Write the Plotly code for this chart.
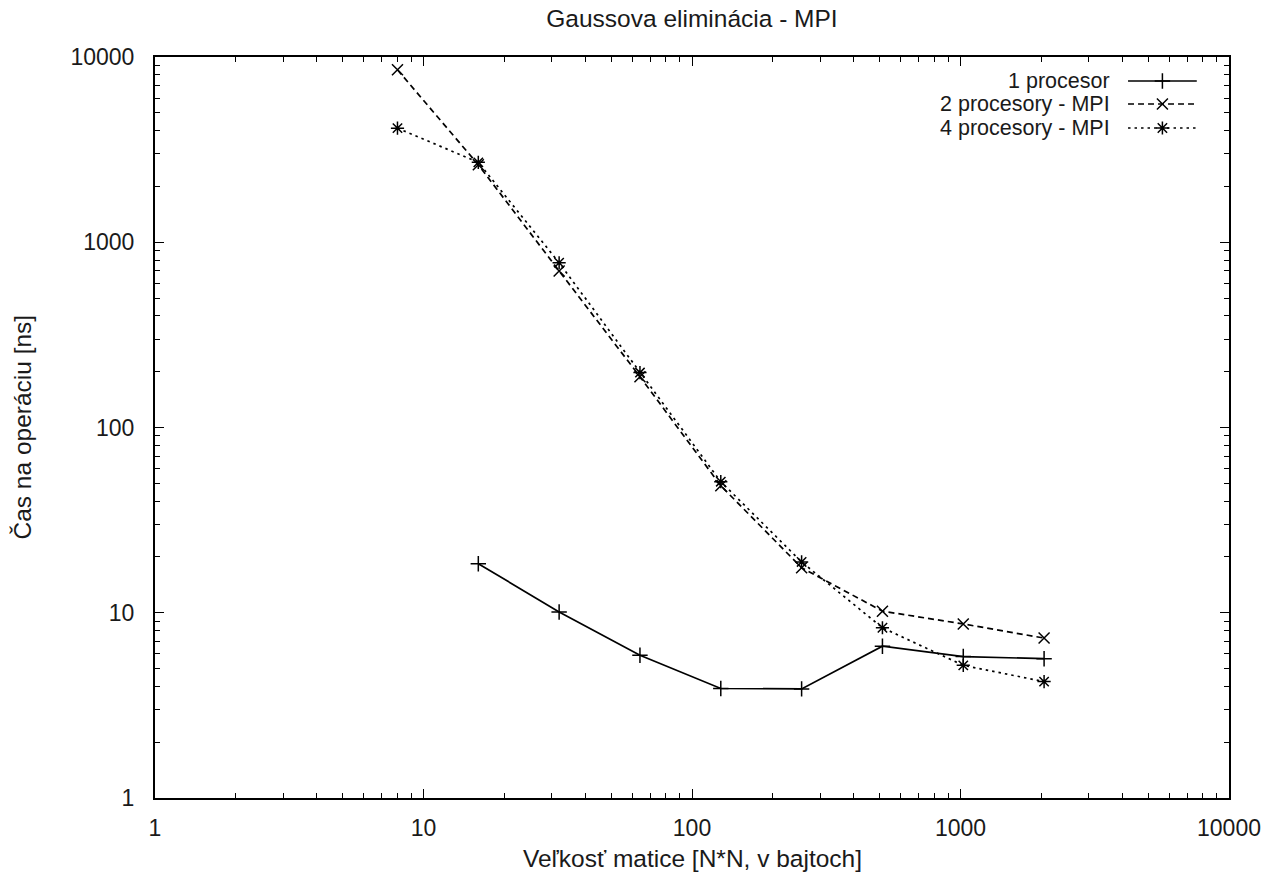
import plotly.graph_objects as go

# Matrix sizes (N*N, bytes) and time per operation [ns]
sizes = [8, 16, 32, 64, 128, 256, 512, 1024, 2048]
one_proc_sizes = [16, 32, 64, 128, 256, 512, 1024, 2048]
one_proc = [18.4, 10.1, 5.9, 3.9, 3.88, 6.6, 5.8, 5.65]
two_mpi = [8530, 2620, 700, 188, 48.5, 17.5, 10.2, 8.7, 7.3]
four_mpi = [4130, 2700, 775, 198, 51, 18.8, 8.3, 5.2, 4.25]

series_names = ["1 procesor", "2 procesory - MPI", "4 procesory - MPI"]
tick_vals = [1, 10, 100, 1000, 10000]
tick_text = ["1", "10", "100", "1000", "10000"]

FONT = "Liberation Sans, Arial, sans-serif"
INK = "#1a1a1a"
FS_TICK = 23
FS_TITLE = 24.5
FS_KEY = 21.5

styles = [
    dict(dash="solid", symbol="cross-thin-open"),
    dict(dash="6px,4px", symbol="x-thin-open"),
    dict(dash="2.5px,4px", symbol="asterisk-open"),
]
MSIZE = 11

fig = go.Figure()

for xs, ys, st in [(one_proc_sizes, one_proc, styles[0]),
                   (sizes, two_mpi, styles[1]),
                   (sizes, four_mpi, styles[2])]:
    fig.add_trace(go.Scatter(
        x=xs, y=ys, mode="lines+markers", showlegend=False,
        line=dict(color="black", width=1.7, dash=st["dash"]),
        marker=dict(symbol=st["symbol"], size=MSIZE, color="black",
                    line=dict(color="black", width=1.5)),
    ))

# gnuplot-style key: right-aligned labels with sample line and marker on the right
key_rows = [0.9676, 0.9366, 0.9042]
for name, st, ky in zip(series_names, styles, key_rows):
    fig.add_trace(go.Scatter(
        x=[0.906, 0.938, 0.970], y=[ky, ky, ky], xaxis="x2", yaxis="y2",
        mode="lines", showlegend=False, hoverinfo="skip",
        line=dict(color="black", width=1.7, dash=st["dash"]),
    ))
    fig.add_trace(go.Scatter(
        x=[0.938], y=[ky], xaxis="x2", yaxis="y2",
        mode="markers", showlegend=False, hoverinfo="skip",
        marker=dict(symbol=st["symbol"], size=MSIZE, color="black",
                    line=dict(color="black", width=1.5)),
    ))
    fig.add_annotation(x=0.890, y=ky, xref="x2", yref="y2", text=name,
                       showarrow=False, xanchor="right", yanchor="middle",
                       borderpad=0,
                       font=dict(family=FONT, size=FS_KEY, color=INK))

axis_common = dict(
    type="log", range=[0, 4], tickvals=tick_vals, ticktext=tick_text,
    ticks="inside", ticklen=9, tickwidth=1.2, tickcolor="black",
    minor=dict(ticks="inside", ticklen=5, tickwidth=1.2, tickcolor="black",
               dtick="D1", showgrid=False),
    showline=True, linecolor="black", linewidth=2, mirror="allticks",
    showgrid=False, zeroline=False,
    tickfont=dict(family=FONT, size=FS_TICK, color=INK),
)

fig.update_layout(
    width=1281, height=878,
    margin=dict(l=155, r=52, t=57, b=80),
    paper_bgcolor="white", plot_bgcolor="white",
    title=dict(text="Gaussova eliminácia - MPI", x=0.5, xref="paper",
               y=1 - 18 / 878, yref="container", yanchor="middle", xanchor="center",
               font=dict(family=FONT, size=FS_TITLE, color=INK)),
    xaxis=dict(**axis_common, ticklabelstandoff=8),
    yaxis=dict(**axis_common, ticklabelstandoff=14),
    xaxis2=dict(range=[0, 1], overlaying="x", visible=False, fixedrange=True),
    yaxis2=dict(range=[0, 1], overlaying="y", visible=False, fixedrange=True),
    showlegend=False,
)

fig.add_annotation(x=0.5, y=-0.081, xref="paper", yref="paper",
                   text="Veľkosť matice [N*N, v bajtoch]", showarrow=False,
                   xanchor="center", yanchor="middle",
                   font=dict(family=FONT, size=FS_TITLE, color=INK))
fig.add_annotation(x=-0.1238, y=0.5, xref="paper", yref="paper",
                   text="Čas na operáciu [ns]", showarrow=False, textangle=-90,
                   xanchor="center", yanchor="middle",
                   font=dict(family=FONT, size=FS_TITLE, color=INK))

fig.write_html("out.html")
